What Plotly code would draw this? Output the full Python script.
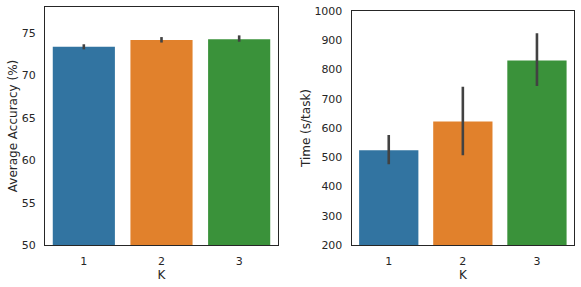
import plotly.graph_objects as go

categories = ["1", "2", "3"]
acc_values = [73.4, 74.2, 74.3]
acc_err_plus = [0.3, 0.35, 0.45]
acc_err_minus = [0.3, 0.3, 0.3]
time_values = [524, 622, 831]
time_err_plus = [52, 119, 93]
time_err_minus = [48, 115, 87]
acc_ticks = [50, 55, 60, 65, 70, 75]
time_ticks = [200, 300, 400, 500, 600, 700, 800, 900, 1000]
colors = ["#3274a1", "#e1812c", "#3a923a"]
err_color = "#424242"
tick_font = dict(family="DejaVu Sans", size=11, color="#262626")
title_font = dict(family="DejaVu Sans", size=12, color="#262626")

fig = go.Figure()
fig.add_trace(go.Bar(
    x=categories, y=acc_values, marker=dict(color=colors, line=dict(width=0)),
    width=0.8, xaxis="x", yaxis="y",
    error_y=dict(type="data", array=acc_err_plus, arrayminus=acc_err_minus,
                 color=err_color, thickness=2.6, width=0),
    showlegend=False, hoverinfo="skip",
))
fig.add_trace(go.Bar(
    x=categories, y=time_values, marker=dict(color=colors, line=dict(width=0)),
    width=0.8, xaxis="x2", yaxis="y2",
    error_y=dict(type="data", array=time_err_plus, arrayminus=time_err_minus,
                 color=err_color, thickness=2.6, width=0),
    showlegend=False, hoverinfo="skip",
))

W, H = 581, 287
frame = dict(showline=True, mirror=True, linecolor="#262626", linewidth=1.25,
             showgrid=False, zeroline=False, ticks="outside",
             tickcolor="rgba(0,0,0,0)", tickfont=tick_font, automargin=False)

fig.update_layout(
    width=W, height=H,
    margin=dict(l=0, r=0, t=0, b=0),
    paper_bgcolor="white", plot_bgcolor="white",
    font=tick_font,
    xaxis=dict(domain=[45 / W, 278 / W], anchor="y", range=[-0.5, 2.5],
               type="category", ticklen=6,
               title=dict(text="K", font=title_font, standoff=2), **frame),
    yaxis=dict(domain=[1 - 245 / H, 1 - 7 / H], anchor="x", range=[50, 78.1],
               tickvals=acc_ticks, ticklen=6,
               title=dict(text="Average Accuracy (%)", font=title_font, standoff=1), **frame),
    xaxis2=dict(domain=[351.7 / W, 574 / W], anchor="y2", range=[-0.5, 2.5],
                type="category", ticklen=6,
                title=dict(text="K", font=title_font, standoff=2), **frame),
    yaxis2=dict(domain=[1 - 245 / H, 1 - 11 / H], anchor="x2", range=[200, 1000],
                tickvals=time_ticks, ticklen=6,
                title=dict(text="Time (s/task)", font=title_font, standoff=1), **frame),
)

fig.write_html("out.html", config={"displayModeBar": False},
               post_script="document.body.style.margin='0';")
